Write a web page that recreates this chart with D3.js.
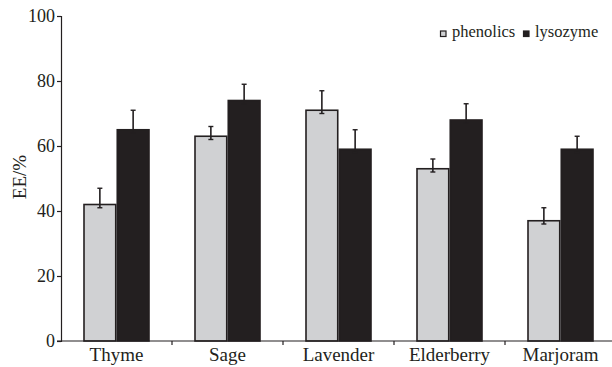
<!DOCTYPE html>
<html>
<head>
<meta charset="utf-8">
<script src="https://cdn.jsdelivr.net/npm/d3@7"></script>
<style>
  html, body { margin: 0; padding: 0; background: #fff; }
  svg { display: block; }
</style>
</head>
<body>
<svg id="chart" width="612" height="367"></svg>
<script>
// Encapsulation efficiency per extract
const categories = ["Thyme", "Sage", "Lavender", "Elderberry", "Marjoram"];
const seriesNames = ["phenolics", "lysozyme"];
const phenolics = [42, 63, 71, 53, 37];
const lysozyme = [65, 74, 59, 68, 59];
const phenolicsErr = [5, 3, 6, 3, 4];
const lysozymeErr = [6, 5, 6, 5, 4];
const lowerErr = [1, 1, 1, 1, 1];
const yTicks = [0, 20, 40, 60, 80, 100];

const ink = "#231f20";
const serif = '"Liberation Serif", "Times New Roman", serif';
const colors = { phenolics: "#d0d1d3", lysozyme: ink };

const svg = d3.select("#chart");
const margin = { left: 61, top: 16, bottom: 26 };
const H = 367;
const bandW = 111;

const x = d3.scaleBand()
  .domain(categories)
  .range([margin.left, margin.left + bandW * categories.length])
  .paddingInner(0).paddingOuter(0);
const y = d3.scaleLinear().domain([0, 100]).range([H - margin.bottom, margin.top]);

const rows = categories.map((c, i) => ({
  cat: c,
  vals: [
    { key: "phenolics", v: phenolics[i], up: phenolicsErr[i], lo: lowerErr[i] },
    { key: "lysozyme", v: lysozyme[i], up: lysozymeErr[i], lo: lowerErr[i] }
  ]
}));

const barW = 31;
const gap = 3;
const xs = d3.scaleBand().domain(seriesNames).range([0, barW * 2 + gap]).paddingInner(gap / (barW * 2 + gap));

const groups = svg.append("g").selectAll("g").data(rows).join("g")
  .attr("transform", d => `translate(${x(d.cat) + x.bandwidth() / 2 - (barW * 2 + gap) / 2},0)`);

groups.selectAll("rect").data(d => d.vals).join("rect")
  .attr("x", d => xs(d.key))
  .attr("width", xs.bandwidth())
  .attr("y", d => y(d.v))
  .attr("height", d => y(0) - y(d.v))
  .attr("fill", d => colors[d.key])
  .attr("stroke", ink)
  .attr("stroke-width", 1.6);

// error bars
const eb = groups.selectAll("g.err").data(d => d.vals).join("g").attr("class", "err")
  .attr("transform", d => `translate(${xs(d.key) + xs.bandwidth() / 2},0)`);
eb.append("line")
  .attr("y1", d => y(d.v + d.up)).attr("y2", d => y(d.v - d.lo))
  .attr("stroke", ink).attr("stroke-width", 1.6);
eb.append("line")
  .attr("x1", -2.5).attr("x2", 2.5)
  .attr("y1", d => y(d.v + d.up)).attr("y2", d => y(d.v + d.up))
  .attr("stroke", ink).attr("stroke-width", 1.4);
eb.append("line")
  .attr("x1", -2.5).attr("x2", 2.5)
  .attr("y1", d => y(d.v - d.lo)).attr("y2", d => y(d.v - d.lo))
  .attr("stroke", ink).attr("stroke-width", 1.4);

// y axis
const yAxis = svg.append("g")
  .attr("transform", `translate(${margin.left},0)`)
  .call(d3.axisLeft(y).tickValues(yTicks).tickSize(4).tickPadding(2));
yAxis.select(".domain").attr("stroke", ink).attr("stroke-width", 1.2);
yAxis.selectAll(".tick line").attr("stroke", ink).attr("stroke-width", 1.2);
yAxis.selectAll(".tick text")
  .style("font-family", serif).style("font-size", "18px").attr("fill", ink);

// x axis with ticks at band boundaries
const xAxisG = svg.append("g").attr("transform", `translate(0,${y(0)})`);
xAxisG.append("line")
  .attr("x1", margin.left - 4).attr("x2", x.range()[1])
  .attr("stroke", ink).attr("stroke-width", 1.2);
xAxisG.selectAll("line.bt").data(categories.slice(1)).join("line").attr("class", "bt")
  .attr("x1", d => x(d)).attr("x2", d => x(d))
  .attr("y1", 0).attr("y2", 4)
  .attr("stroke", ink).attr("stroke-width", 1.2);
xAxisG.selectAll("text").data(categories).join("text")
  .attr("x", d => x(d) + x.bandwidth() / 2)
  .attr("y", 20)
  .attr("text-anchor", "middle")
  .attr("fill", ink)
  .style("font-family", serif).style("font-size", "19px")
  .text(d => d);

// y label
svg.append("text")
  .attr("transform", `translate(26,177) rotate(-90)`)
  .attr("text-anchor", "middle")
  .attr("fill", ink)
  .style("font-family", serif).style("font-size", "19px")
  .text("EE/%");

// legend
const legendX = [440, 523];
const lg = svg.append("g").selectAll("g").data(seriesNames).join("g")
  .attr("transform", (d, i) => `translate(${legendX[i]},34)`);
lg.append("rect")
  .attr("x", 0.5).attr("y", -3).attr("width", 5.5).attr("height", 5.5)
  .attr("fill", d => colors[d]).attr("stroke", ink).attr("stroke-width", 1.2);
lg.append("text")
  .attr("x", 12).attr("y", 3)
  .attr("fill", ink)
  .style("font-family", serif).style("font-size", "16.5px")
  .text(d => d);
</script>
</body>
</html>
